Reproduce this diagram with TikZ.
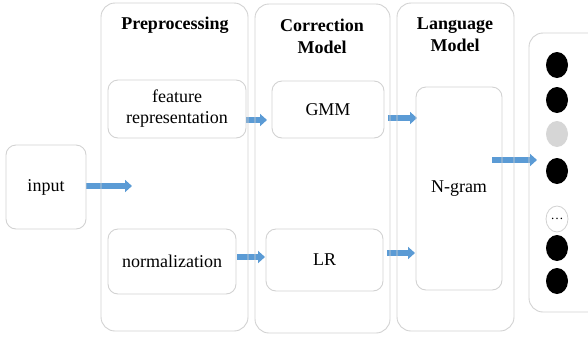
\documentclass[tikz,border=0pt]{standalone}
\usepackage{fontspec}
\setmainfont{Liberation Serif}
\usetikzlibrary{arrows.meta, positioning, shapes.geometric, backgrounds}
\definecolor{flowblue}{HTML}{5B9BD5}
\definecolor{boxgray}{HTML}{D2D2D2}
\definecolor{dotgray}{HTML}{D6D6D6}

\begin{document}
\begin{tikzpicture}[x=1pt, y=-1pt,
        every node/.style={font=\fontsize{18}{21}\selectfont},
        stage/.style={draw=boxgray, line width=0.9pt, rounded corners=14pt},
        unit/.style={draw=boxgray, line width=0.9pt, rounded corners=10pt, align=center},
        title/.style={font=\fontsize{18}{22}\selectfont\bfseries, align=center},
        flow/.style={draw=flowblue, line width=5.5pt,
            -{Triangle[length=7pt, width=12pt]}},
        dot/.style={ellipse, fill=black, minimum width=22pt, minimum height=26pt, inner sep=0pt}
    ]
        \useasboundingbox (0,0) rectangle (588,338);

        % stages
        \node [unit, minimum width=80pt, minimum height=84pt] (input) at (46,187) {input};
        \node [stage, minimum width=147pt, minimum height=328pt] (prep) at (174.5,167) {};
        \node [stage, minimum width=135pt, minimum height=329pt] (corr) at (322.5,168.5) {};
        \node [stage, minimum width=117pt, minimum height=328pt] (lang) at (455.5,167) {};
        \node [stage, minimum width=80pt, minimum height=279pt] (outcol) at (569,172.5) {};

        % titles
        \node [title] (prep title) at (175,25) {Preprocessing};
        \node [title] (corr title) at (322,36) {Correction\\Model};
        \node [title] (lang title) at (455,35) {Language\\Model};

        % inner boxes
        \node [unit, minimum width=138pt, minimum height=58pt] (feat) at (177,109) {feature\\representation};
        \node [unit, minimum width=128pt, minimum height=65pt] (norm) at (172,261.5) {normalization};
        \node [unit, minimum width=112pt, minimum height=57pt] (gmm) at (328,109.5) {GMM};
        \node [unit, minimum width=117pt, minimum height=62pt] (lr) at (324.5,260) {LR};
        \node [unit, minimum width=86pt, minimum height=203pt] (ngram) at (459,188.5) {N-gram};

        % output units
        \node [dot] (o1) at (557,65) {};
        \node [dot] (o2) at (557,100) {};
        \node [dot, fill=dotgray] (o3) at (557,134) {};
        \node [dot] (o4) at (557,171) {};
        \node [dot, fill=white, draw=boxgray, line width=0.8pt, font=\fontsize{13}{13}\selectfont] (o5) at (557,219) {\dots};
        \node [dot] (o6) at (557,248) {};
        \node [dot] (o7) at (557,281) {};

        % arrows (under the borders)
        \coordinate (input tip) at (132,186);
        \coordinate (feat tip) at (267,120);
        \coordinate (norm tip) at (265,257);
        \coordinate (gmm tip) at (417,118);
        \coordinate (lr tip) at (415,253);
        \coordinate (ngram tip) at (537,160);

        \begin{scope}[on background layer]
            \draw [flow] (input tip -| input.east) -- (input tip);
            \draw [flow] (feat tip -| feat.east) -- (feat tip);
            \draw [flow, shorten <=1pt] (norm tip -| norm.east) -- (norm tip);
            \draw [flow, shorten <=4pt] (gmm tip -| gmm.east) -- (gmm tip);
            \draw [flow, shorten <=4pt] (lr tip -| lr.east) -- (lr tip);
            \draw [flow, shorten <=-10pt] (ngram tip -| ngram.east) -- (ngram tip);
        \end{scope}
    \end{tikzpicture}
\end{document}
